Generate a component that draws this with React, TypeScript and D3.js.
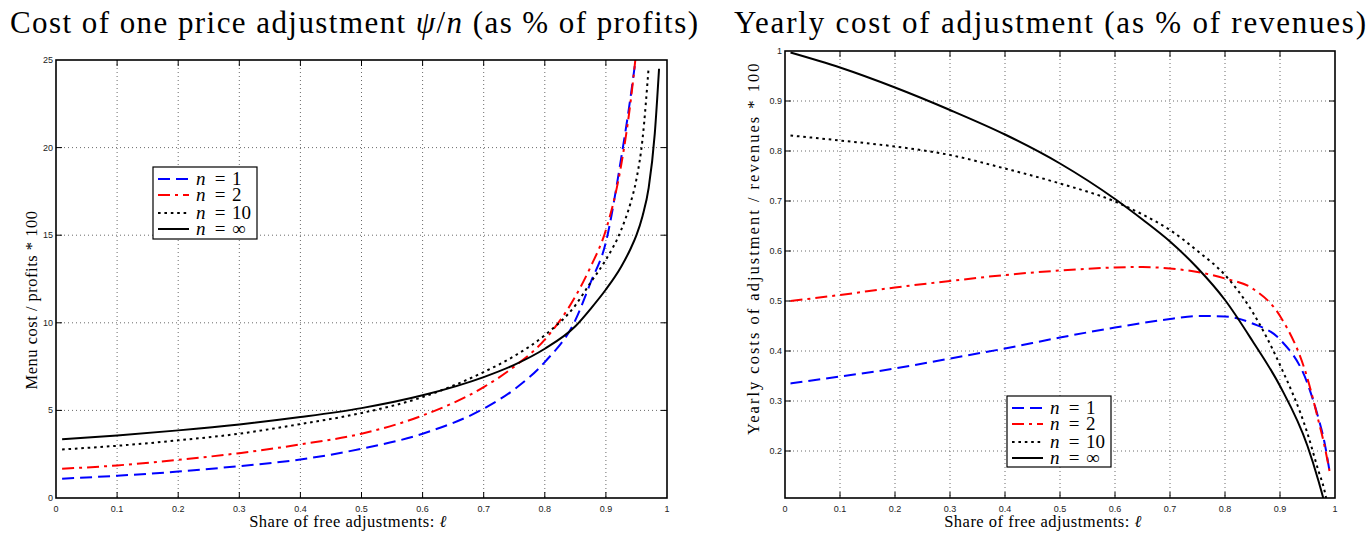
import React from 'react';
import * as d3 from 'd3';

// ---------- data ----------
const ELL_LEFT = [0.01, 0.1, 0.2, 0.3, 0.4, 0.5, 0.6, 0.7, 0.75, 0.8, 0.85, 0.875, 0.9, 0.925, 0.94, 0.95, 0.96, 0.97, 0.98, 0.987];
const LEFT_N1 = [1.10, 1.27, 1.51, 1.82, 2.20, 2.81, 3.67, 5.10, 6.20, 7.76, 10.15, 12.3, 14.6, 19.4, 22.8, 25.4, null, null, null, null];
const LEFT_N2 = [1.67, 1.86, 2.18, 2.56, 3.06, 3.67, 4.71, 6.33, 7.50, 9.04, 11.5, 13.2, 15.3, 19.0, 22.5, 25.6, null, null, null, null];
const LEFT_N10 = [2.77, 2.98, 3.29, 3.67, 4.22, 4.85, 5.76, 7.19, 8.10, 9.29, 11.0, 12.3, 13.6, 15.3, 16.8, 18.2, 20.5, 24.6, null, null];
const LEFT_NINF = [3.35, 3.57, 3.86, 4.20, 4.62, 5.13, 5.86, 6.90, 7.60, 8.52, 9.80, 10.8, 11.9, 13.2, 14.2, 15.0, 16.1, 17.7, 20.8, 24.5];

const ELL_RIGHT = [0.01, 0.1, 0.2, 0.3, 0.4, 0.5, 0.6, 0.65, 0.7, 0.75, 0.8, 0.85, 0.9, 0.95, 0.97, 0.98, 0.99];
const RIGHT_N1 = [0.335, 0.349, 0.365, 0.385, 0.405, 0.427, 0.447, 0.456, 0.464, 0.470, 0.469, 0.455, 0.423, 0.335, 0.265, 0.222, 0.16];
const RIGHT_N2 = [0.500, 0.512, 0.527, 0.540, 0.552, 0.561, 0.567, 0.568, 0.565, 0.558, 0.545, 0.525, 0.470, 0.345, 0.260, 0.215, 0.16];
const RIGHT_N10 = [0.831, 0.821, 0.809, 0.792, 0.765, 0.735, 0.699, 0.673, 0.642, 0.600, 0.552, 0.478, 0.372, 0.235, 0.160, 0.125, 0.07];
const RIGHT_NINF = [0.997, 0.967, 0.927, 0.882, 0.833, 0.775, 0.704, 0.663, 0.619, 0.566, 0.502, 0.420, 0.330, 0.210, 0.140, 0.100, 0.05];

const SERIES_N = ['1', '2', '10', '∞'];
const X_TICKS = [0, 0.1, 0.2, 0.3, 0.4, 0.5, 0.6, 0.7, 0.8, 0.9, 1];
const LEFT_Y_TICKS = [0, 5, 10, 15, 20, 25];
const RIGHT_Y_TICKS = [0.2, 0.3, 0.4, 0.5, 0.6, 0.7, 0.8, 0.9, 1];

// ---------- styles ----------
const SERIES_STYLE = [
  { color: '#0000ff', dash: '12,6' },
  { color: '#ff0000', dash: '12,5,3,5' },
  { color: '#000000', dash: '2.6,3.8' },
  { color: '#000000', dash: undefined as string | undefined },
];
const SERIF = "'Liberation Serif', 'DejaVu Serif', serif";
const SANS = "'Liberation Sans', Arial, sans-serif";
const fmt = (t: number) => String(Math.round(t * 10) / 10);

type Box = { l: number; r: number; t: number; b: number };

function Panel(props: {
  id: string;
  box: Box;
  yDomain: [number, number];
  yTicks: number[];
  ell: number[];
  values: (number | null)[][];
  legend: { x: number; y: number; w: number; h: number };
  xLabelCx: number;
  yLabel: string;
  yLabelPos: { x: number; y: number };
  yLabelLength?: number;
}) {
  const { id, box, yDomain, yTicks, ell, values, legend, xLabelCx, yLabel, yLabelPos, yLabelLength } = props;
  const x = d3.scaleLinear().domain([0, 1]).range([box.l, box.r]);
  const y = d3.scaleLinear().domain(yDomain).range([box.b, box.t]);
  const line = d3
    .line<[number, number | null]>()
    .defined((d) => d[1] != null)
    .x((d) => x(d[0]))
    .y((d) => y(d[1] as number))
    .curve(d3.curveMonotoneX);
  const tickLen = 6;
  const gridX = X_TICKS.filter((t) => t > 0 && t < 1);
  const gridY = yTicks.filter((t) => t > yDomain[0] && t < yDomain[1]);
  const rowOffsets = [12, 28, 46, 62];
  return (
    <g>
      <defs>
        <clipPath id={id}>
          <rect x={box.l} y={box.t} width={box.r - box.l} height={box.b - box.t} />
        </clipPath>
      </defs>
      {/* grid */}
      <g stroke="#6a6a6a" strokeWidth={1} strokeDasharray="1,3">
        {gridX.map((t) => (
          <line key={'gx' + t} x1={x(t)} x2={x(t)} y1={box.t} y2={box.b} />
        ))}
        {gridY.map((t) => (
          <line key={'gy' + t} x1={box.l} x2={box.r} y1={y(t)} y2={y(t)} />
        ))}
      </g>
      {/* ticks */}
      <g stroke="#000" strokeWidth={1}>
        {gridX.map((t) => (
          <g key={'tx' + t}>
            <line x1={x(t)} x2={x(t)} y1={box.b} y2={box.b - tickLen} />
            <line x1={x(t)} x2={x(t)} y1={box.t} y2={box.t + tickLen} />
          </g>
        ))}
        {gridY.map((t) => (
          <g key={'ty' + t}>
            <line x1={box.l} x2={box.l + tickLen} y1={y(t)} y2={y(t)} />
            <line x1={box.r} x2={box.r - tickLen} y1={y(t)} y2={y(t)} />
          </g>
        ))}
      </g>
      {/* curves */}
      <g clipPath={`url(#${id})`} fill="none">
        {values.map((vals, i) => (
          <path
            key={i}
            d={line(ell.map((e, k) => [e, vals[k]] as [number, number | null])) || ''}
            stroke={SERIES_STYLE[i].color}
            strokeWidth={2}
            strokeDasharray={SERIES_STYLE[i].dash}
          />
        ))}
      </g>
      {/* frame */}
      <rect x={box.l} y={box.t} width={box.r - box.l} height={box.b - box.t} fill="none" stroke="#000" strokeWidth={1.6} />
      {/* tick labels */}
      <g style={{ fontFamily: SANS }} fontSize={9} fill="#222">
        {X_TICKS.map((t) => (
          <text key={'lx' + t} x={x(t)} y={box.b + 14} textAnchor="middle">
            {fmt(t)}
          </text>
        ))}
        {yTicks.map((t) => (
          <text key={'ly' + t} x={box.l - 3} y={y(t) + 3} textAnchor="end">
            {fmt(t)}
          </text>
        ))}
      </g>
      {/* axis labels */}
      <text x={xLabelCx} y={527} textAnchor="middle" style={{ fontFamily: SERIF }} fontSize={16.5} letterSpacing={0.5}>
        Share of free adjustments: <tspan fontStyle="italic">ℓ</tspan>
      </text>
      <text
        transform={`translate(${yLabelPos.x},${yLabelPos.y}) rotate(-90)`}
        textAnchor="middle"
        style={{ fontFamily: SERIF }}
        fontSize={16.5}
        letterSpacing={0.5}
        textLength={yLabelLength}
        lengthAdjust="spacing"
      >
        {yLabel}
      </text>
      {/* legend */}
      <rect x={legend.x} y={legend.y} width={legend.w} height={legend.h} fill="#fff" stroke="#000" strokeWidth={1.2} />
      {SERIES_N.map((n, i) => {
        const ly = legend.y + rowOffsets[i];
        return (
          <g key={'lg' + i}>
            <line
              x1={legend.x + 5}
              x2={legend.x + 36}
              y1={ly}
              y2={ly}
              stroke={SERIES_STYLE[i].color}
              strokeWidth={2}
              strokeDasharray={SERIES_STYLE[i].dash}
            />
            <text x={legend.x + 43} y={ly + 6} style={{ fontFamily: SERIF }} fontSize={19} fontStyle="italic">
              n
            </text>
            <text x={legend.x + 67} y={ly + 6} style={{ fontFamily: SERIF }} fontSize={19} textAnchor="middle">
              =
            </text>
            <text x={legend.x + 79} y={ly + 6} style={{ fontFamily: SERIF }} fontSize={19}>
              {n}
            </text>
          </g>
        );
      })}
    </g>
  );
}

export default function App() {
  return (
    <svg
      width={1369}
      height={534}
      viewBox="0 0 1369 534"
      style={{ position: 'absolute', left: 0, top: 0, background: '#fff' }}
    >
      <rect width={1369} height={534} fill="#fff" />
      <text x={354} y={33} textAnchor="middle" style={{ fontFamily: SERIF }} fontSize={31} textLength={688} lengthAdjust="spacing">
        Cost of one price adjustment <tspan fontStyle="italic">ψ</tspan>/<tspan fontStyle="italic">n</tspan> (as % of profits)
      </text>
      <text x={1050} y={33} textAnchor="middle" style={{ fontFamily: SERIF }} fontSize={31} textLength={632} lengthAdjust="spacing">
        Yearly cost of adjustment (as % of revenues)
      </text>
      <Panel
        id="clipLeft"
        box={{ l: 56, r: 667, t: 60, b: 498 }}
        yDomain={[0, 25]}
        yTicks={LEFT_Y_TICKS}
        ell={ELL_LEFT}
        values={[LEFT_N1, LEFT_N2, LEFT_N10, LEFT_NINF]}
        legend={{ x: 153, y: 167, w: 104, h: 72 }}
        xLabelCx={348}
        yLabel="Menu cost / profits * 100"
        yLabelPos={{ x: 37, y: 300 }}
      />
      <Panel
        id="clipRight"
        box={{ l: 785, r: 1335, t: 51, b: 498 }}
        yDomain={[0.106, 1]}
        yTicks={RIGHT_Y_TICKS}
        ell={ELL_RIGHT}
        values={[RIGHT_N1, RIGHT_N2, RIGHT_N10, RIGHT_NINF]}
        legend={{ x: 1007, y: 396, w: 104, h: 71 }}
        xLabelCx={1043}
        yLabel="Yearly costs of adjustment / revenues * 100"
        yLabelPos={{ x: 759, y: 249 }}
        yLabelLength={372}
      />
    </svg>
  );
}
